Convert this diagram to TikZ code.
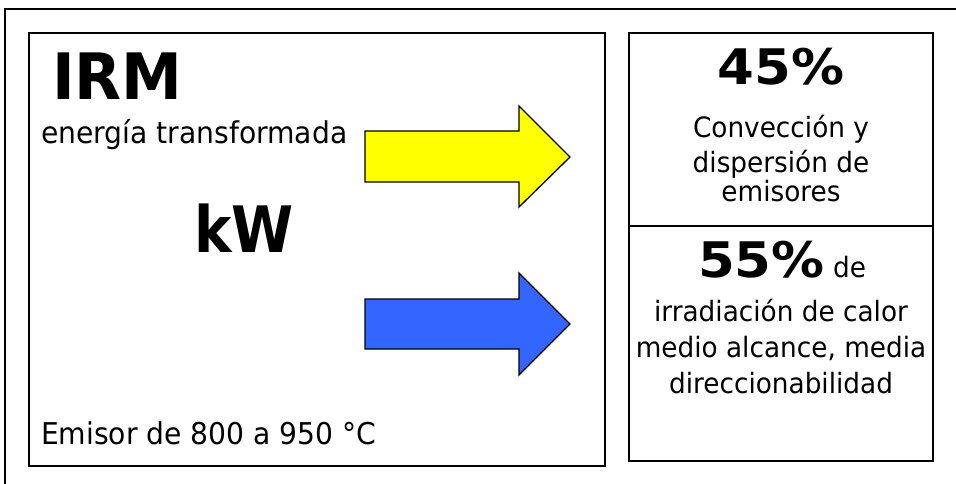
\documentclass[tikz,border=0pt]{standalone}
\usepackage{fontspec}
\setmainfont[FakeStretch=0.94]{DejaVu Sans}
\newfontfamily\kwfont[FakeStretch=0.88]{DejaVu Sans}
\newfontfamily\irmfont[FakeStretch=0.955]{DejaVu Sans}
\newfontfamily\pctfont[FakeStretch=1.08]{DejaVu Sans}
\begin{document}
\begin{tikzpicture}[x=1pt,y=-1pt,
  frame/.style={draw=black,line width=1.5pt},
  boxline/.style={draw=black,line width=1.4pt},
  arrowshape/.style={draw=black,line width=1.3pt,line join=miter},
  txt/.style={inner sep=0pt,outer sep=0pt,font=\fontsize{30}{36}\selectfont},
  txtr/.style={inner sep=0pt,outer sep=0pt,font=\fontsize{28}{34}\selectfont},
  pct/.style={inner sep=0pt,outer sep=0pt,font=\pctfont\bfseries\fontsize{49}{54}\selectfont}]
\definecolor{arrowyellow}{HTML}{FFFF00}
\definecolor{arrowblue}{HTML}{3366FF}
\useasboundingbox (0,0) rectangle (956,484);

% outer frame, running off the right and bottom edges
\draw[frame] (5,484) -- (5,9) -- (956,9);

% source box
\draw[boxline] (29,33) rectangle (605,466);
\node[inner sep=0pt,anchor=base west,font=\irmfont\bfseries\fontsize{64}{70}\selectfont] (irm) at (52,100) {IRM};
\node[txt,anchor=base west] (energy) at (41,143) {energía transformada};
\node[inner sep=0pt,anchor=base west,font=\kwfont\bfseries\fontsize{64}{70}\selectfont] (kw) at (194,252) {kW};
\node[txt,anchor=base west] (emitter) at (41,444) {Emisor de 800 a 950 °C};

% block arrows
\filldraw[arrowshape,fill=arrowyellow]
  (365,131) -- (519,131) -- (519,106) -- (570,157) -- (519,207) -- (519,182) -- (365,182) -- cycle;
\filldraw[arrowshape,fill=arrowblue]
  (365,299) -- (519,299) -- (519,273) -- (570,324) -- (519,375) -- (519,349) -- (365,349) -- cycle;

% result boxes
\draw[boxline] (629,33) rectangle (933,226);
\draw[boxline] (629,226) rectangle (933,461);

\node[pct,anchor=base] (p45) at (781,85) {45\%};
\node[txtr,anchor=base] (c1) at (781,138) {Convección y};
\node[txtr,anchor=base] (c2) at (781,172) {dispersión de};
\node[txtr,anchor=base] (c3) at (781,201) {emisores};

\node[anchor=base,inner sep=0pt] (p55) at (782,277)
  {{\pctfont\bfseries\fontsize{49}{54}\selectfont 55\%}\fontsize{28}{34}\selectfont\ de};
\node[txtr,anchor=base] (r1) at (781,321) {irradiación de calor};
\node[txtr,anchor=base] (r2) at (781,357) {medio alcance, media};
\node[txtr,anchor=base] (r3) at (781,393) {direccionabilidad};
\end{tikzpicture}
\end{document}
